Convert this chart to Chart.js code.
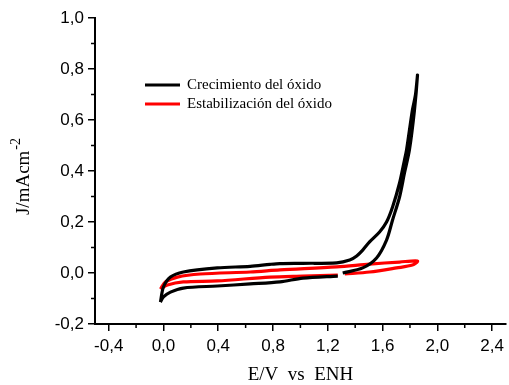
<!DOCTYPE html>
<html>
<head>
<meta charset="utf-8">
<script src="https://cdn.jsdelivr.net/npm/chart.js@4.4.1/dist/chart.umd.min.js"></script>
<style>
  html, body { margin: 0; padding: 0; background: #fff; }
  #wrap { width: 509px; height: 385px; }
</style>
</head>
<body>
<div id="wrap"><canvas id="cv_chart"></canvas></div>
<script>
// potential (V vs ENH) and current density (mA/cm2)
// null marks the small break in the return sweep
const crecimientoE = [-0.022, 0.0, 0.051, 0.145, 0.393, 0.633, 0.851, 1.018, 1.273, 1.29,
    1.309, 1.455, 1.556, 1.629, 1.673, 1.724, 1.760, 1.796, 1.833, 1.855,
    1.840, 1.818, 1.775, 1.760, 1.724, 1.673, 1.629, 1.578, 1.505, 1.455, 1.411, 1.360,
    1.265, 1.018, 0.850, 0.778, 0.633, 0.393, 0.145, 0.051, 0.0, -0.022];
const crecimientoJ = [-0.114, -0.094, -0.075, -0.059, -0.051, -0.043, -0.035, -0.020, -0.012, null,
    0.0, 0.020, 0.059, 0.129, 0.208, 0.298, 0.392, 0.482, 0.639, 0.776,
    0.698, 0.639, 0.482, 0.443, 0.353, 0.259, 0.200, 0.161, 0.122, 0.090, 0.067, 0.051,
    0.040, 0.038, 0.037, 0.034, 0.026, 0.020, 0.004, -0.016, -0.055, -0.114];

const estabilizacionE = [-0.022, 0.015, 0.102, 0.269, 0.633, 0.851, 1.265, 1.505, 1.724, 1.855,
    1.818, 1.702, 1.505, 1.324, 1.30, 1.273, 1.018, 0.778, 0.393, 0.145, 0.029, -0.022];
const estabilizacionJ = [-0.063, -0.035, -0.016, -0.004, 0.004, 0.012, 0.024, 0.035, 0.043, 0.047,
    0.031, 0.020, 0.004, -0.004, null, -0.008, -0.012, -0.016, -0.031, -0.035, -0.047, -0.063];

const seriesLabels = ['Crecimiento del óxido', 'Estabilización del óxido'];
const xTicks = [-0.4, 0.0, 0.4, 0.8, 1.2, 1.6, 2.0, 2.4];
const yTicks = [-0.2, 0.0, 0.2, 0.4, 0.6, 0.8, 1.0];

const toPoints = (xs, ys) => xs.map((x, i) => ({ x: x, y: ys[i] }));
const comma = (v) => v.toFixed(1).replace('.', ',');

// short minor ticks between the labelled ones
const minorTicks = {
    id: 'minorTicks',
    afterDraw(chart) {
        const c = chart.ctx, xs = chart.scales.x, ys = chart.scales.y;
        c.save();
        c.strokeStyle = '#000';
        c.lineWidth = 1.5;
        c.beginPath();
        for (let i = 0; i < xTicks.length - 1; i++) {
            const px = xs.getPixelForValue((xTicks[i] + xTicks[i + 1]) / 2);
            c.moveTo(px, ys.bottom);
            c.lineTo(px, ys.bottom + 4);
        }
        for (let i = 0; i < yTicks.length - 1; i++) {
            const py = ys.getPixelForValue((yTicks[i] + yTicks[i + 1]) / 2);
            c.moveTo(xs.left, py);
            c.lineTo(xs.left - 4, py);
        }
        c.stroke();
        c.restore();
    }
};

// y title with superscript and the legend inside the plot
const extras = {
    id: 'extras',
    afterDraw(chart) {
        const c = chart.ctx;
        c.save();
        c.fillStyle = '#000';
        c.translate(29, 177);
        c.rotate(-Math.PI / 2);
        c.font = '19px "Liberation Serif", "Times New Roman", serif';
        c.textBaseline = 'alphabetic';
        const base = 'J/mAcm';
        const w1 = c.measureText(base).width;
        c.font = '14px "Liberation Serif", "Times New Roman", serif';
        const w2 = c.measureText('-2').width;
        let x0 = -(w1 + w2) / 2;
        c.font = '19px "Liberation Serif", "Times New Roman", serif';
        c.fillText(base, x0, 0);
        c.font = '14px "Liberation Serif", "Times New Roman", serif';
        c.fillText('-2', x0 + w1 + 1, -9);
        c.restore();

        c.save();
        c.font = '15px "Liberation Serif", "Times New Roman", serif';
        c.textBaseline = 'middle';
        chart.data.datasets.forEach((ds, i) => {
            const y = 85 + i * 19;
            c.strokeStyle = ds.borderColor;
            c.lineWidth = 3;
            c.beginPath();
            c.moveTo(145, y);
            c.lineTo(180, y);
            c.stroke();
            c.fillStyle = '#000';
            c.fillText(ds.label, 187, y);
        });
        c.restore();
    }
};

const tickFont = { family: '"Liberation Sans", Arial, sans-serif', size: 17 };

new Chart(document.getElementById('cv_chart'), {
    type: 'scatter',
    data: {
        datasets: [{
            label: seriesLabels[0],
            data: toPoints(crecimientoE, crecimientoJ),
            showLine: true,
            borderColor: '#000000',
            borderWidth: 3.2,
            pointRadius: 0,
            tension: 0.3,
            spanGaps: false
        }, {
            label: seriesLabels[1],
            data: toPoints(estabilizacionE, estabilizacionJ),
            showLine: true,
            borderColor: '#ff0000',
            borderWidth: 3.2,
            pointRadius: 0,
            tension: 0.3,
            spanGaps: false
        }]
    },
    options: {
        responsive: true,
        maintainAspectRatio: false,
        animation: false,
        layout: { padding: { left: 0, right: 2, top: 18, bottom: 0 } },
        plugins: { legend: { display: false }, tooltip: { enabled: false } },
        scales: {
            x: {
                type: 'linear',
                min: -0.5,
                max: 2.5,
                afterFit: (s) => { s.height = 61; },
                afterBuildTicks: (s) => { s.ticks = xTicks.map(v => ({ value: v })); },
                ticks: { color: '#000', font: tickFont, padding: 5, callback: comma },
                grid: { drawOnChartArea: false, drawTicks: true, tickLength: 7, color: '#000', lineWidth: 1.5 },
                border: { color: '#000', width: 2 },
                title: {
                    display: true,
                    text: 'E/V  vs  ENH',
                    color: '#000',
                    font: { family: '"Liberation Serif", "Times New Roman", serif', size: 19, lineHeight: 1 },
                    padding: 0
                }
            },
            y: {
                type: 'linear',
                min: -0.2,
                max: 1.0,
                afterFit: (s) => { s.width = 95; },
                afterBuildTicks: (s) => { s.ticks = yTicks.map(v => ({ value: v })); },
                ticks: { color: '#000', font: tickFont, padding: 4, callback: comma },
                grid: { drawOnChartArea: false, drawTicks: true, tickLength: 7, color: '#000', lineWidth: 1.5 },
                border: { color: '#000', width: 2 }
            }
        }
    },
    plugins: [minorTicks, extras]
});
</script>
</body>
</html>
